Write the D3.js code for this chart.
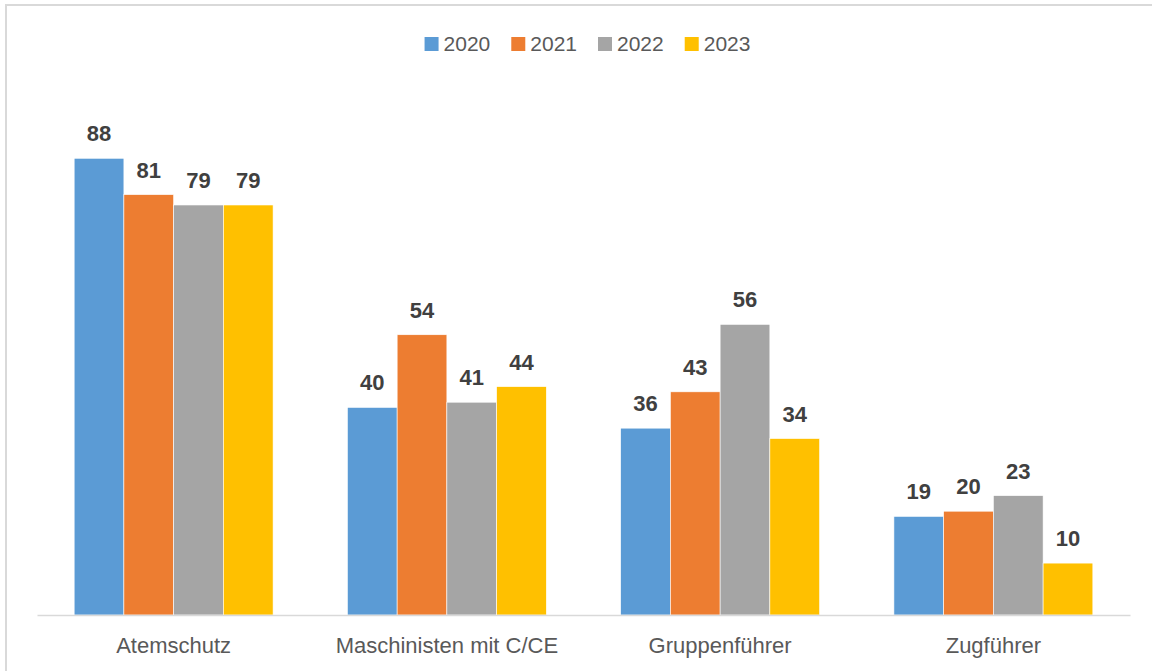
<!DOCTYPE html>
<html>
<head>
<meta charset="utf-8">
<script src="https://cdn.jsdelivr.net/npm/d3@7"></script>
<style>
  body { margin: 0; background: #fff; }
  svg { display: block; font-family: "Liberation Sans", Arial, sans-serif; }
</style>
</head>
<body>
<div id="chart"></div>
<script>
// chart values
const categories = ["Atemschutz", "Maschinisten mit C/CE", "Gruppenführer", "Zugführer"];
const years = ["2020", "2021", "2022", "2023"];
const values2020 = [88, 40, 36, 19];
const values2021 = [81, 54, 43, 20];
const values2022 = [79, 41, 56, 23];
const values2023 = [79, 44, 34, 10];
const colors = ["#5b9bd5", "#ed7d31", "#a5a5a5", "#ffc000"];

const series = [values2020, values2021, values2022, values2023];

const width = 1152, height = 671;
const margin = { top: 96, right: 22, bottom: 56, left: 37 };

const svg = d3.select("#chart")
    .append("svg")
    .attr("width", width)
    .attr("height", height);

// outer chart border (runs off the right and bottom edge)
svg.append("rect")
    .attr("x", 6)
    .attr("y", 5)
    .attr("width", width + 10)
    .attr("height", height + 10)
    .attr("fill", "none")
    .attr("stroke", "#d9d9d9")
    .attr("stroke-width", 2);

const x0 = d3.scaleBand()
    .domain(categories)
    .range([margin.left, 1130])
    .paddingInner(0.272)
    .paddingOuter(0.136);

const x1 = d3.scaleBand()
    .domain(years)
    .range([0, x0.bandwidth()]);

const y = d3.scaleLinear()
    .domain([0, 100])
    .range([height - margin.bottom, margin.top]);

// bars
const groups = svg.selectAll(".group")
    .data(categories)
    .join("g")
    .attr("class", "group")
    .attr("transform", d => `translate(${x0(d)},0)`);

groups.selectAll("rect")
    .data((c, i) => years.map((yr, j) => ({ year: yr, value: series[j][i], idx: j })))
    .join("rect")
    .attr("x", d => x1(d.year))
    .attr("y", d => y(d.value))
    .attr("width", x1.bandwidth())
    .attr("height", d => y(0) - y(d.value))
    .attr("fill", d => colors[d.idx])
    .attr("stroke", "#fff")
    .attr("stroke-width", 0.6);

groups.selectAll("text")
    .data((c, i) => years.map((yr, j) => ({ year: yr, value: series[j][i] })))
    .join("text")
    .attr("x", d => x1(d.year) + x1.bandwidth() / 2)
    .attr("y", d => y(d.value) - 17)
    .attr("text-anchor", "middle")
    .attr("font-size", "22px")
    .attr("font-weight", "bold")
    .attr("fill", "#404040")
    .text(d => d.value);

// baseline axis
const xAxis = svg.append("g")
    .attr("transform", `translate(0,${y(0)})`)
    .call(d3.axisBottom(x0).tickSize(0).tickPadding(22));
xAxis.select(".domain").attr("stroke", "#d9d9d9").attr("stroke-width", 1.5);
xAxis.selectAll("text")
    .attr("font-size", "22px")
    .attr("font-family", "'Liberation Sans', Arial, sans-serif")
    .attr("fill", "#595959");

// legend
const legend = svg.append("g");
let lx = 0;
years.forEach((yr, i) => {
    const item = legend.append("g").attr("transform", `translate(${lx},0)`);
    item.append("rect")
        .attr("x", 0).attr("y", -14)
        .attr("width", 14).attr("height", 14)
        .attr("fill", colors[i]);
    const t = item.append("text")
        .attr("x", 19).attr("y", 0)
        .attr("font-size", "21px")
        .attr("fill", "#595959")
        .text(yr);
    lx += 19 + t.node().getComputedTextLength() + 21;
});
const legendWidth = lx - 21;
legend.attr("transform", `translate(${587.5 - legendWidth / 2},51)`);
</script>
</body>
</html>
